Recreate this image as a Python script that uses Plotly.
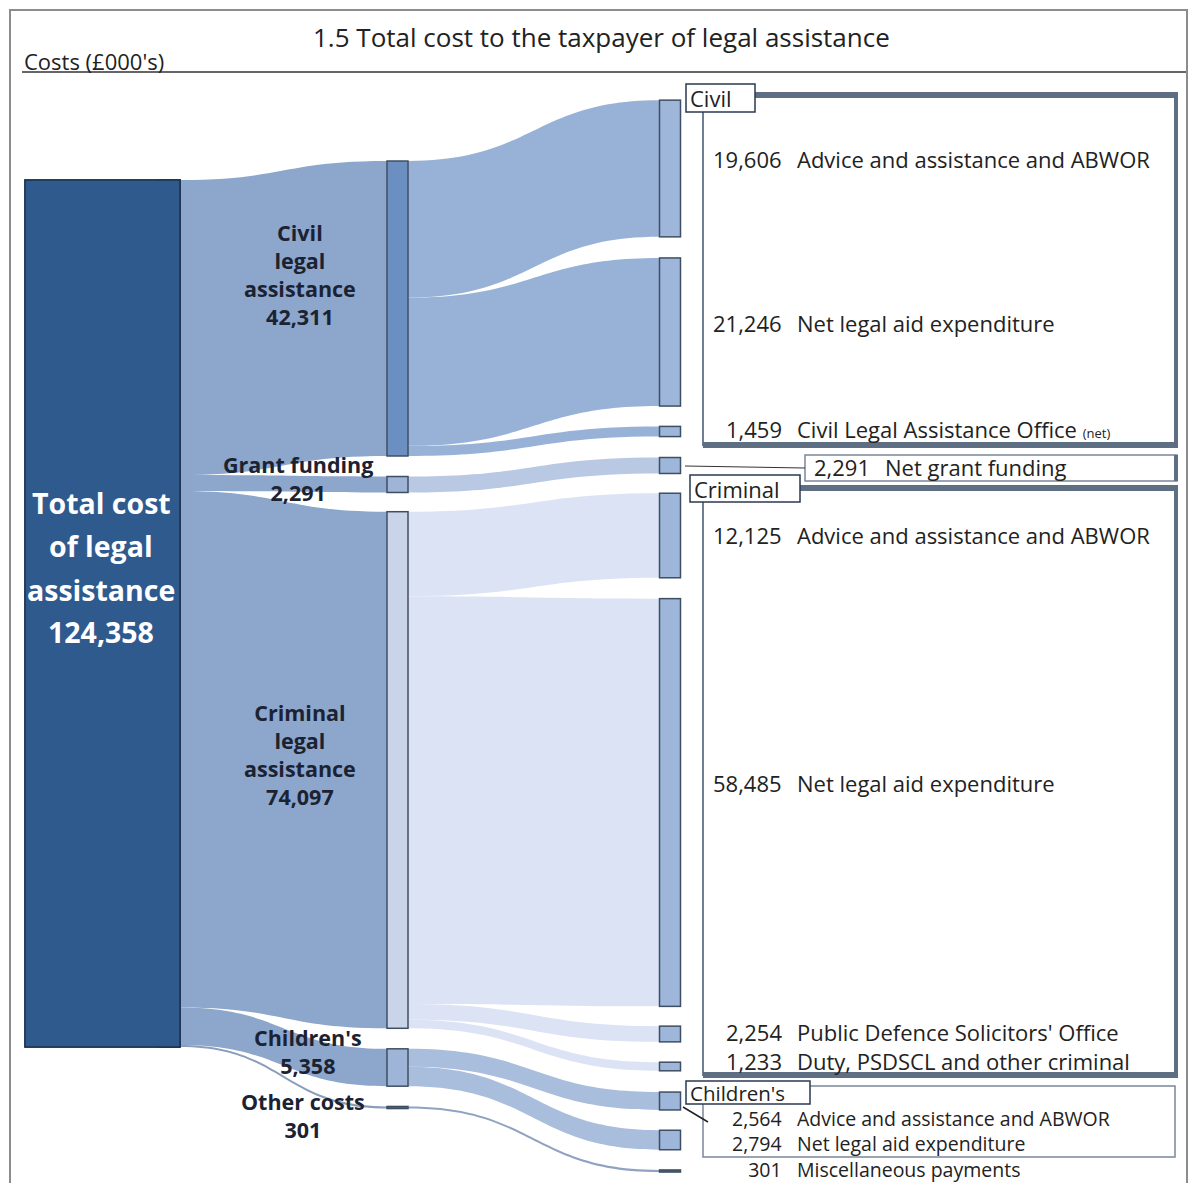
import plotly.graph_objects as go

# ---------------- data ----------------
title_text = "1.5 Total cost to the taxpayer of legal assistance"
unit_text = "Costs (£000's)"
total_label = "Total cost of legal assistance"

middle_names = ["Civil legal assistance", "Grant funding", "Criminal legal assistance",
                "Children's", "Other costs"]
middle_values = [42311, 2291, 74097, 5358, 301]

civil_items = ["Advice and assistance and ABWOR", "Net legal aid expenditure",
               "Civil Legal Assistance Office (net)"]
civil_values = [19606, 21246, 1459]

grant_items = ["Net grant funding"]
grant_values = [2291]

criminal_items = ["Advice and assistance and ABWOR", "Net legal aid expenditure",
                  "Public Defence Solicitors' Office", "Duty, PSDSCL and other criminal"]
criminal_values = [12125, 58485, 2254, 1233]

children_items = ["Advice and assistance and ABWOR", "Net legal aid expenditure"]
children_values = [2564, 2794]

other_items = ["Miscellaneous payments"]
other_values = [301]

group_headers = ["Civil", "Criminal", "Children's"]

# ---------------- structure ----------------
right_groups = [(civil_items, civil_values), (grant_items, grant_values),
                (criminal_items, criminal_values), (children_items, children_values),
                (other_items, other_values)]
total_value = sum(middle_values)

labels = [total_label] + middle_names
for items, _ in right_groups:
    labels += items
src, tgt, val = [], [], []
for i, v in enumerate(middle_values):
    src.append(0); tgt.append(1 + i); val.append(v)
idx = 1 + len(middle_names)
for gi, (items, values) in enumerate(right_groups):
    for v in values:
        src.append(1 + gi); tgt.append(idx); val.append(v)
        idx += 1

def fmt(v):
    return f"{v:,}"

# ---------------- layout / style ----------------
W, H, OFF = 1181, 1175, 8
FONT = "Open Sans"

def X(px):
    return (px - OFF) / W

def Y(py):
    return 1 - (py - OFF) / H

# vertical extents (px from top)
main_top, main_bot = 95, 1180
big_top, big_bot = 180, 1047
ky = (big_bot - big_top) / total_value
n_right = len(labels) - 1 - len(middle_names)
pad = ((main_bot - main_top) - ky * total_value) / (n_right - 1)

thick = 21
x_centers = [180 - thick / 2] + [397.5] * 5 + [670] * n_right
y_centers = ([613.5, 308.5, 484.5, 770, 1067.5, 1107.5] +
             [168.5, 332, 431.5, 465.5, 535.5, 802.5, 1034, 1066.5, 1101, 1140, 1171])
node_x = [X(x) for x in x_centers]
node_y = [(y - main_top) / (main_bot - main_top) for y in y_centers]

TOTAL_COLOR = "#2e5a8e"
node_colors = ([TOTAL_COLOR, "#6b8fc1", "#9fb4d6", "#c9d4e9", "#9fb5d8", "#55607a"] +
               ["#9db6da"] * (n_right - 1) + ["#55607a"])
link_colors = []
mid_link = ["#98b2d7", "#b9c8e3", "#dce3f4", "#a9bddd", "#8fa2c2"]
for s, t in zip(src, tgt):
    if s == 0:
        link_colors.append("#8ca6cc" if t != 5 else "#8b9dbd")
    else:
        link_colors.append(mid_link[s - 1])

fig = go.Figure()
fig.add_trace(go.Sankey(
    arrangement="fixed",
    domain=dict(x=[0, 1], y=[Y(main_bot), Y(main_top)]),
    node=dict(label=labels, x=node_x, y=node_y, pad=pad, thickness=thick,
              color=node_colors, line=dict(color="#3f4f63", width=1.5)),
    link=dict(source=src, target=tgt, value=val, color=link_colors),
    textfont=dict(color="rgba(0,0,0,0)", size=1),
    valueformat=",",
))

# wide total node drawn as its own sankey column (paired node sits exactly on it)
fig.add_trace(go.Sankey(
    arrangement="fixed",
    hoverinfo="skip",
    domain=dict(x=[0, 1], y=[Y(big_bot), Y(big_top)]),
    node=dict(label=[total_label, total_label], x=[X(102.5), X(102.5)], y=[0.5, 0.5],
              pad=1, thickness=155, color=[TOTAL_COLOR, TOTAL_COLOR],
              line=dict(color="#1f3350", width=1.5)),
    link=dict(source=[0], target=[1], value=[total_value], color=["rgba(0,0,0,0)"]),
    textfont=dict(color="rgba(0,0,0,0)", size=1),
))

ann = []
def text(x, y, t, size=21, color="#222222", xanchor="center", bold=False):
    if bold:
        t = f"<b>{t}</b>"
    ann.append(dict(x=X(x), y=Y(y), xref="paper", yref="paper", text=t, showarrow=False,
                    xanchor=xanchor, yanchor="middle", align=xanchor if xanchor != "center" else "center",
                    borderpad=0,
                    font=dict(family=FONT, size=size, color=color)))

# title and unit
text(601, 37, title_text, size=26)
text(23, 61, unit_text, size=22, xanchor="left")

# total label
words = total_label.split()
total_lines = [" ".join(words[0:2]), " ".join(words[2:4]), " ".join(words[4:]), fmt(total_value)]
for line, y in zip(total_lines, [503, 546, 590, 632]):
    text(101, y, line, size=28.5, color="white", bold=True)

# middle labels (one text block per node, centre x / centre y)
mid_pos = [(300, 275), (298, 478.5), (300, 754.5), (308, 1051.5), (303, 1115.5)]
for name, v, (mx, my) in zip(middle_names, middle_values, mid_pos):
    parts = name.split() if "legal" in name else [name]
    parts = parts + [fmt(v)]
    text(mx, my, "<br>".join(parts), size=21.5, color="#1b2232", bold=True)

# right labels: each block is a list of (group, item) pairs drawn as one text, with its centre y
def item_text(it):
    return it.replace(" (net)", " <span style='font-size:13px'>(net)</span>")

right_blocks = [
    ([(0, 0)], 159, 22), ([(0, 1)], 323, 22), ([(0, 2)], 429, 22),
    ([(1, 0)], 467, 22),
    ([(2, 0)], 535, 22), ([(2, 1)], 783, 22), ([(2, 2), (2, 3)], 1046.5, 22),
    ([(3, 0), (3, 1), (4, 0)], 1143.5, 19.5),
]
for pairs, yc, sz in right_blocks:
    gi0 = pairs[0][0]
    nx, lx = (871, 884) if gi0 == 1 else (783, 796)
    nums = [fmt(right_groups[g][1][i]) for g, i in pairs]
    names = [item_text(right_groups[g][0][i]) for g, i in pairs]
    text(nx, yc, "<br>".join(nums), xanchor="right", size=sz)
    text(lx, yc, "<br>".join(names), xanchor="left", size=sz)

# ---------------- shapes ----------------
shapes = []
def line(x0, y0, x1, y1, color="#5e6e83", width=2):
    shapes.append(dict(type="line", xref="paper", yref="paper", x0=X(x0), y0=Y(y0),
                       x1=X(x1), y1=Y(y1), line=dict(color=color, width=width)))

def rect(x0, y0, x1, y1, color="#7a8799", width=1.5, fill="rgba(0,0,0,0)"):
    shapes.append(dict(type="rect", xref="paper", yref="paper", x0=X(x0), y0=Y(y0),
                       x1=X(x1), y1=Y(y1), line=dict(color=color, width=width),
                       fillcolor=fill))

# outer frame + title rule
rect(10, 10, 1187, 1210, color="#8c8c8c", width=2)
line(22, 72, 1186, 72, color="#333333", width=1.5)

# civil box
line(703, 96, 703, 446, color="#6f7e92", width=2)
line(703, 95, 1178, 95, width=6)
line(1176, 95, 1176, 446, width=4)
line(703, 445, 1178, 445, width=6)
# grant box
rect(805, 455, 1177, 481, color="#7a8799", width=1.5)
line(1176, 455, 1176, 481, width=4)
line(685, 466, 805, 468, color="#333333", width=1)
# criminal box
line(703, 490, 703, 1076, color="#6f7e92", width=2)
line(800, 488, 1178, 488, width=6)
line(1176, 488, 1176, 1076, width=4)
line(703, 1075, 1178, 1075, width=6)
# children box
rect(703, 1086, 1175, 1157, color="#7a8799", width=1.5)
line(683, 1107, 708, 1122, color="#222222", width=1.5)

# header boxes
headers = [(686, 84, 755, 112, 22), (690, 475, 800, 502, 22), (686, 1081, 810, 1104, 20.5)]
for name, (x0, y0, x1, y1, sz) in zip(group_headers, headers):
    rect(x0, y0, x1, y1, color="#2a3a50", width=1.5, fill="white")
    text(x0 + 3, (y0 + y1) / 2, name, xanchor="left", size=sz)

fig.update_layout(width=W, height=H, margin=dict(l=0, r=0, t=0, b=0),
                  paper_bgcolor="white", plot_bgcolor="white",
                  font=dict(family=FONT), annotations=ann, shapes=shapes)

fig.write_html("out.html")
